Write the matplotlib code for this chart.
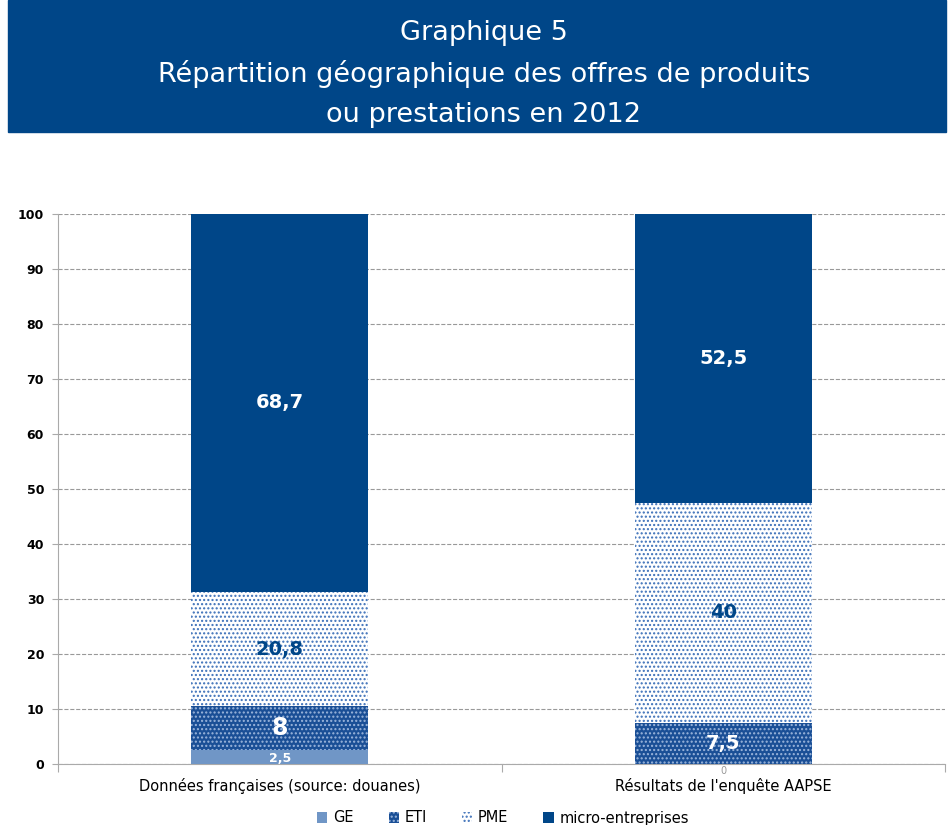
import matplotlib
matplotlib.use('Agg')
import matplotlib.pyplot as plt
from matplotlib.patches import Rectangle, Patch
import numpy as np

plt.rcParams['font.family'] = ['DejaVu Sans']
plt.rcParams['hatch.linewidth'] = 1.0

categories = ['Données françaises (source: douanes)', "Résultats de l'enquête AAPSE"]
series_names = ['GE', 'ETI', 'PME', 'micro-entreprises']
ge = [2.5, 0]
eti = [8, 7.5]
pme = [20.8, 40]
micro = [68.7, 52.5]
labels = [['2,5', '0'], ['8', '7,5'], ['20,8', '40'], ['68,7', '52,5']]

navy = '#004688'
fig = plt.figure(figsize=(9.48, 8.25), dpi=100)

# bandeau titre
fig.patches.append(Rectangle((8 / 948, 1 - 132 / 825), 938 / 948, 132 / 825,
                             transform=fig.transFigure, color=navy, zorder=0))
title_lines = ['Graphique 5', 'Répartition géographique des offres de produits',
               'ou prestations en 2012']
for i, t in enumerate(title_lines):
    fig.text(484 / 948, 1 - (33 + i * 41) / 825, t, color='white', fontsize=19.5,
             ha='center', va='center')

ax = fig.add_axes([58 / 948, 61 / 825, 887 / 948, 550 / 825])
x = np.arange(len(categories))
w = 0.4

values = [ge, eti, pme, micro]
styles = [
    dict(color='#7096c6', hatch=None, edge='#7096c6'),
    dict(color='#1a4f96', hatch='....', edge='#9cb6dc'),
    dict(color='white', hatch='....', edge='#3b6fb8'),
    dict(color=navy, hatch=None, edge=navy),
]
bottom = np.zeros(len(categories))
for s, (vals, st) in enumerate(zip(values, styles)):
    ax.bar(x, vals, w, bottom=bottom, color=st['color'], hatch=st['hatch'],
           edgecolor=st['edge'], linewidth=0, zorder=3)
    for i, v in enumerate(vals):
        yc = bottom[i] + v / 2
        if s == 0:
            if v == 0:
                ax.text(x[i], -0.3, labels[s][i], ha='center', va='top',
                        fontsize=7, color='#999999', zorder=5)
            else:
                ax.text(x[i], yc - 0.2, labels[s][i], ha='center', va='center',
                        fontsize=9, fontweight='bold', color='white', zorder=5)
        elif s == 2:
            ax.text(x[i], yc, labels[s][i], ha='center', va='center', fontsize=14,
                    fontweight='bold', color=navy, zorder=5)
        else:
            fsz = 17 if labels[s][i] == '8' else 14
            ax.text(x[i], yc, labels[s][i], ha='center', va='center', fontsize=fsz,
                    fontweight='bold', color='white', zorder=5)
    bottom += np.array(vals)

ax.set_xlim(-0.5, 1.5)
ax.set_ylim(0, 100)
ax.set_yticks(range(0, 101, 10))
ax.tick_params(axis='y', labelsize=9, length=4, color='#aaaaaa', pad=6)
for lab in ax.get_yticklabels():
    lab.set_fontweight('bold')
ax.set_xticks([-0.5, 0.5, 1.5])
ax.set_xticklabels([])
ax.set_xticks(x, minor=True)
ax.set_xticklabels(categories, minor=True, fontsize=10.5)
ax.tick_params(axis='x', which='major', length=6, color='#aaaaaa')
ax.tick_params(axis='x', which='minor', length=0, pad=10)
ax.grid(axis='y', linestyle='--', color='#999999', linewidth=0.8, zorder=0)
for sp in ['top', 'right']:
    ax.spines[sp].set_visible(False)
ax.spines['left'].set_color('#aaaaaa')
ax.spines['bottom'].set_color('#aaaaaa')

handles = [Patch(facecolor=st['color'], hatch=st['hatch'], edgecolor=st['edge'],
                 linewidth=0) for st in styles]
fig.legend(handles, series_names, loc='center', bbox_to_anchor=(503 / 948, 1 - 818 / 825),
           ncol=4, frameon=False, fontsize=10.5, handlelength=0.7, handleheight=0.7,
           columnspacing=2.4, handletextpad=0.4)

plt.savefig('out.png', dpi=100)
